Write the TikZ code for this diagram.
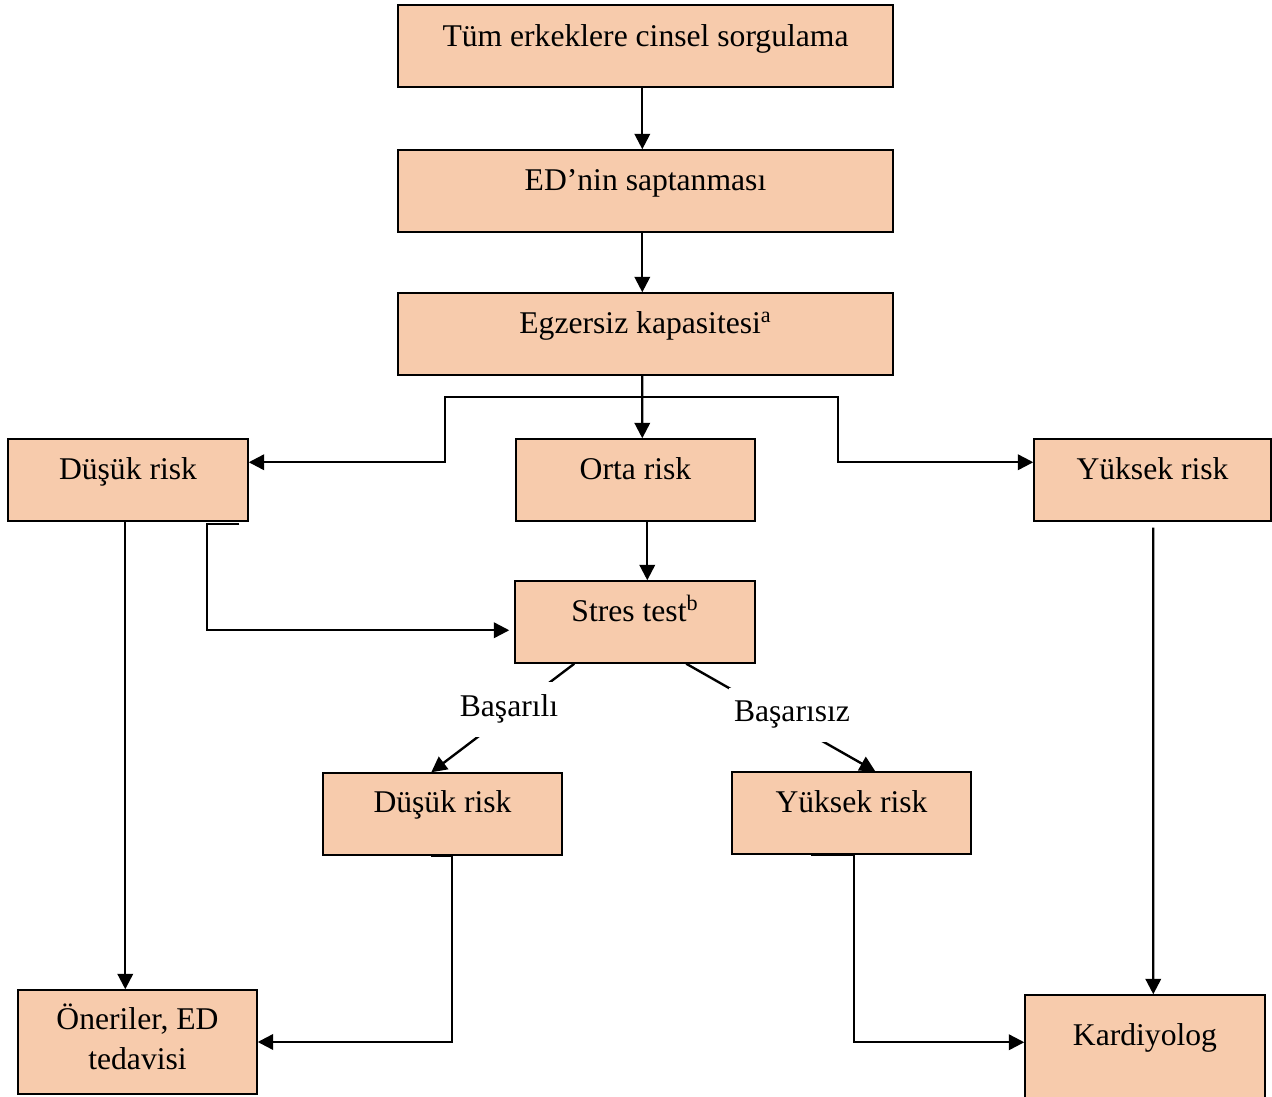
\documentclass[tikz,border=0pt]{standalone}
\usepackage{fontspec}
\setmainfont{Liberation Serif}
\usetikzlibrary{arrows.meta,calc}
\definecolor{peach}{HTML}{F7CBAC}
\begin{document}
\begin{tikzpicture}[x=0.02cm,y=-0.02cm,
  box/.style={draw=black,fill=peach,line width=0.85pt,inner sep=0pt,minimum height=1.64cm},
  txt/.style={font=\fontsize{18}{22}\selectfont,inner sep=0pt,anchor=base},
  conn/.style={line width=1.35pt},
  tip/.tip={Triangle[length=0.31cm,width=0.31cm]},
  arr/.style={conn,-tip},
  lbl/.style={font=\fontsize{18}{22}\selectfont,fill=white,anchor=base,inner xsep=0.1cm,inner ysep=0.27cm}]
\useasboundingbox (0,0) rectangle (1272,1097);
% boxes
\node[box,minimum width=9.9cm] (b1) at (645.5,46) {};
\node[box,minimum width=9.9cm] (b2) at (645.5,191) {};
\node[box,minimum width=9.9cm] (b3) at (645.5,334) {};
\node[box,minimum width=4.8cm] (dusuk) at (128,480) {};
\node[box,minimum width=4.78cm] (orta) at (635.5,480) {};
\node[box,minimum width=4.74cm] (yuksek) at (1152.5,480) {};
\node[box,minimum width=4.8cm] (stres) at (635,622) {};
\node[box,minimum width=4.78cm] (dusuk2) at (442.5,814) {};
\node[box,minimum width=4.78cm] (yuksek2) at (851.5,813) {};
\node[box,minimum width=4.78cm,minimum height=2.08cm] (oneri) at (137.5,1042) {};
\node[box,minimum width=4.8cm,minimum height=2.24cm] (kard) at (1145,1051) {};
% texts
\node[txt] (t1) at ($(b1.north)+(0,42)$) {Tüm erkeklere cinsel sorgulama};
\node[txt] (t2) at ($(b2.north)+(0,41)$) {ED’nin saptanması};
\node[txt] (t3) at ($(b3.north)+(0,41)$) {Egzersiz kapasitesi\textsuperscript{a}};
\node[txt] (t4) at ($(dusuk.north)+(0,41)$) {Düşük risk};
\node[txt] (t5) at ($(orta.north)+(0,41)$) {Orta risk};
\node[txt] (t6) at ($(yuksek.north)+(0,41)$) {Yüksek risk};
\node[txt] (t7) at ($(stres.north)+(0,41)$) {Stres test\textsuperscript{b}};
\node[txt] (t8) at ($(dusuk2.north)+(0,40)$) {Düşük risk};
\node[txt] (t9) at ($(yuksek2.north)+(0,41)$) {Yüksek risk};
\node[txt] (t10a) at ($(oneri.north)+(0,40)$) {Öneriler, ED};
\node[txt] (t10b) at ($(oneri.north)+(0,80)$) {tedavisi};
\node[txt] (t11) at ($(kard.north)+(0,51)$) {Kardiyolog};
% connectors
\draw[arr] ($(b1.south west)+(245,0)$) -- ($(b2.north west)+(245,0)$);
\draw[arr] ($(b2.south west)+(245,0)$) -- ($(b3.north west)+(245,0)$);
\draw[arr] ($(b3.south west)+(245,0)$) -- ($(orta.north west)+(127,0)$);
\coordinate (bl) at (445,397);
\coordinate (br) at (838,397);
\draw[conn,tip-tip] ($(dusuk.north east)+(0,24)$) -| (bl) -- (br) |- ($(yuksek.north west)+(0,24)$);
\draw[arr] ($(orta.south west)+(132,0)$) -- ($(stres.north west)+(133,0)$);
\draw[arr] ($(dusuk.south west)+(232,2)$) -- ($(dusuk.south west)+(200,2)$) |- ($(stres.north west)+(-5,50)$);
\draw[arr] ($(dusuk.south west)+(118,0)$) -- ($(oneri.north west)+(108,0)$);
\draw[arr] ($(yuksek.south west)+(120,6)$) -- ($(kard.north west)+(129,0)$);
\draw[arr] ($(stres.south west)+(60,0)$) -- ($(dusuk2.north west)+(109,0)$);
\draw[arr] ($(stres.south west)+(172,0)$) -- ($(yuksek2.north west)+(144,0)$);
\draw[arr] ($(dusuk2.south west)+(109,0)$) -- ($(dusuk2.south west)+(130,0)$) |- (oneri.east);
\draw[arr] ($(yuksek2.south west)+(80,0)$) -- ($(yuksek2.south west)+(123,0)$) |- ($(kard.north west)+(0,48)$);
% edge labels
\node[lbl] (l1) at (509,717) {Başarılı};
\node[lbl] (l2) at (792,722) {Başarısız};
\end{tikzpicture}
\end{document}
